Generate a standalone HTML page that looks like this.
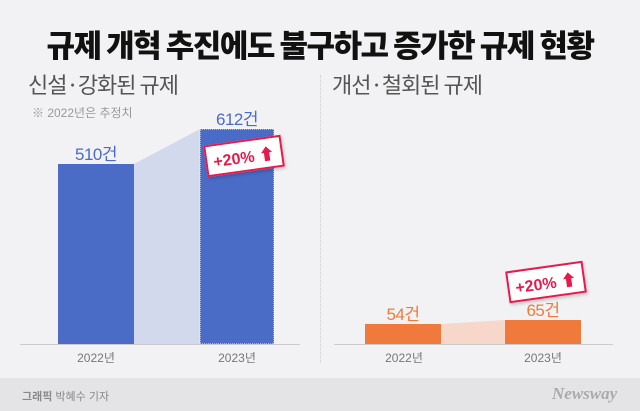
<!DOCTYPE html>
<html><head><meta charset="utf-8"><style>
*{margin:0;padding:0;box-sizing:border-box}
body{width:640px;height:411px;overflow:hidden;background:#f2f2f4;position:relative;font-family:"Liberation Sans","Noto Sans CJK KR",sans-serif}
.a{position:absolute;white-space:nowrap}
.t{left:0;width:640px;top:21px;text-align:center;font-size:31px;font-weight:900;color:#111;letter-spacing:-1.5px;font-family:"Noto Sans CJK KR",sans-serif}
.h{font-size:22px;color:#555;letter-spacing:-1px;font-family:"Noto Sans CJK KR",sans-serif}
.v{font-size:17px;text-align:center;width:90px;letter-spacing:-0.5px}
.y{font-size:12px;color:#777;text-align:center;width:80px}
.tag{border:2px solid #e8194b;background:#fff;color:#e8194b;font-weight:bold;font-size:16px;padding:2px 6px;transform:rotate(-8deg);box-shadow:1px 2px 3px rgba(0,0,0,.2)}
</style></head><body>
<div class="a t">규제 개혁 추진에도 불구하고 증가한 규제 현황</div>
<div class="a h" style="left:28px;top:68px">신설·강화된 규제</div>
<div class="a" style="left:32px;top:104px;font-size:12px;color:#999">※ 2022년은 추정치</div>
<div class="a h" style="left:332px;top:68px">개선·철회된 규제</div>
<div class="a" style="left:320px;top:75px;height:288px;border-left:1px dotted #ccc"></div>
<svg class="a" style="left:0;top:0" width="640" height="411">
<polygon points="134,164 200,129 200,344 134,344" fill="#d3d9ec"/>
<rect x="58" y="164" width="76" height="180" fill="#4a6bc6"/>
<rect x="200" y="129" width="74" height="215" fill="#4a6bc6" stroke="#fff" stroke-dasharray="1,1"/>
<line x1="20" y1="344.5" x2="300" y2="344.5" stroke="#ccc"/>
<polygon points="441,324 505,320 505,344 441,344" fill="#f7d7ca"/>
<rect x="365" y="324" width="76" height="20" fill="#f07a3c"/>
<rect x="505" y="320" width="76" height="24" fill="#f07a3c"/>
<line x1="334" y1="344.5" x2="613" y2="344.5" stroke="#ccc"/>
</svg>
<div class="a v" style="left:51px;top:140px;color:#4a6bc6">510건</div>
<div class="a v" style="left:192px;top:105px;color:#4a6bc6">612건</div>
<div class="a tag" style="left:205px;top:140px">+20% ⬆</div>
<div class="a v" style="left:358px;top:300px;color:#f07a3c">54건</div>
<div class="a v" style="left:498px;top:296px;color:#f07a3c">65건</div>
<div class="a tag" style="left:507px;top:266px">+20% ⬆</div>
<div class="a y" style="left:56px;top:349px">2022년</div>
<div class="a y" style="left:197px;top:349px">2023년</div>
<div class="a y" style="left:364px;top:349px">2022년</div>
<div class="a y" style="left:503px;top:349px">2023년</div>
<div class="a" style="left:0;top:378px;width:640px;height:33px;background:#e4e4e6"></div>
<div class="a" style="left:22px;top:388px;font-size:11px;color:#888"><b>그래픽</b> 박혜수 기자</div>
<div class="a" style="left:552px;top:384px;font-size:17px;color:#aaa;font-style:italic;font-weight:bold;font-family:'Liberation Serif',serif">Newsway</div>
</body></html>
